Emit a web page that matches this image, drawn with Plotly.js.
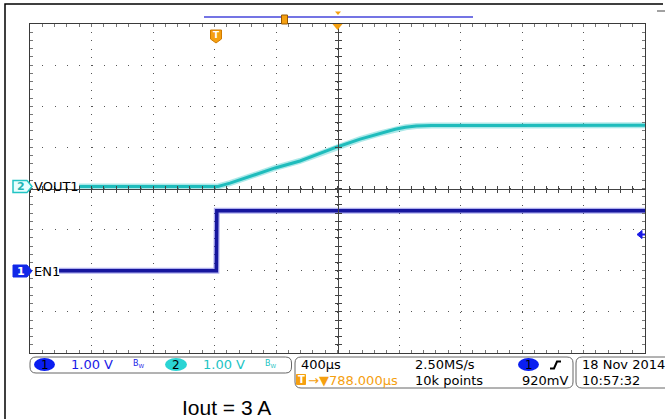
<!DOCTYPE html>
<html>
<head>
<meta charset="utf-8">
<script src="https://cdn.plot.ly/plotly-3.0.1.min.js"></script>
<style>
html,body{margin:0;padding:0;background:#fff;}
#chart{width:665px;height:419px;}
</style>
</head>
<body>
<div id="chart"></div>
<script>
// ---- data (time in microseconds relative to trigger, volts) ----
const en1Time  = [-1023, 0, 3, 2788];
const en1Volts = [0.00, 0.00, 1.46, 1.46];

const vout1Time  = [-893, 11, 89, 219, 382, 544, 785, 935, 1065, 1163, 1230, 1300, 1400, 2788];
const vout1Volts = [0.00, 0.00, 0.08, 0.25, 0.45, 0.62, 0.96, 1.15, 1.29, 1.39, 1.44, 1.47, 1.48, 1.49];

const ch1Label = "EN1";
const ch2Label = "VOUT1";
const statusRow1 = ["400µs", "2.50MS/s"];
const statusRow2 = ["→▼788.000µs", "10k points", "920mV"];
const dateLabels = ["18 Nov 2014", "10:57:32"];
const scaleLabels = ["1.00 V", "1.00 V"];
const footer = "Iout = 3 A";

// ---- layout geometry ----
const L = 30, T = 24, W = 615, H = 329;
const X = p => (p - L) / W;
const Y = p => (T + H - p) / H;
const xRange = [-1212, 2788];
const xTick0 = -1212;

const cyan = '#1fbcbc', blue = '#16169e', orange = '#f5a010';
const font = 'DejaVu Sans, sans-serif';

function rr(x0, y0, x1, y1, r) {
  return 'M' + X(x0 + r) + ',' + Y(y0) + ' L' + X(x1 - r) + ',' + Y(y0) +
    ' Q' + X(x1) + ',' + Y(y0) + ' ' + X(x1) + ',' + Y(y0 + r) +
    ' L' + X(x1) + ',' + Y(y1 - r) +
    ' Q' + X(x1) + ',' + Y(y1) + ' ' + X(x1 - r) + ',' + Y(y1) +
    ' L' + X(x0 + r) + ',' + Y(y1) +
    ' Q' + X(x0) + ',' + Y(y1) + ' ' + X(x0) + ',' + Y(y1 - r) +
    ' L' + X(x0) + ',' + Y(y0 + r) +
    ' Q' + X(x0) + ',' + Y(y0) + ' ' + X(x0 + r) + ',' + Y(y0) + ' Z';
}
function poly(pts) {
  return 'M' + pts.map(p => X(p[0]) + ',' + Y(p[1])).join(' L') + ' Z';
}
function pline(pts) {
  return 'M' + pts.map(p => X(p[0]) + ',' + Y(p[1])).join(' L');
}
function txt(text, x, y, color, size, anchor, extra) {
  return Object.assign({
    text: text, x: X(x), y: Y(y), xref: 'paper', yref: 'paper',
    xanchor: anchor || 'left', yanchor: 'middle', showarrow: false,
    font: {family: font, size: size || 13, color: color || '#000'}
  }, extra || {});
}

const traces = [
  {x: en1Time, y: en1Volts, xaxis: 'x', yaxis: 'y', mode: 'lines',
   line: {color: '#3a3ad8', width: 6}, opacity: 0.4, hoverinfo: 'skip', showlegend: false},
  {x: en1Time, y: en1Volts, xaxis: 'x', yaxis: 'y', mode: 'lines',
   line: {color: blue, width: 3.5}, name: ch1Label, showlegend: false},
  {x: vout1Time, y: vout1Volts, xaxis: 'x', yaxis: 'y2', mode: 'lines',
   line: {color: '#5cd4d4', width: 6}, opacity: 0.5, hoverinfo: 'skip', showlegend: false},
  {x: vout1Time, y: vout1Volts, xaxis: 'x', yaxis: 'y2', mode: 'lines',
   line: {color: cyan, width: 3}, name: ch2Label, showlegend: false},
  // helpers for centre crosshair axes
  {x: [], y: [], xaxis: 'x3', yaxis: 'y', showlegend: false},
  {x: [], y: [], xaxis: 'x4', yaxis: 'y', showlegend: false},
  {x: [], y: [], xaxis: 'x', yaxis: 'y3', showlegend: false},
  {x: [], y: [], xaxis: 'x', yaxis: 'y4', showlegend: false}
];

const centreX = {overlaying: 'x', anchor: 'free', position: 0.5, range: xRange,
  showline: true, linecolor: '#444', linewidth: 1, tick0: xTick0, dtick: 80,
  ticklen: 3, tickcolor: '#444', showticklabels: false, showgrid: false, zeroline: false, fixedrange: true};
const centreY = {overlaying: 'y', anchor: 'free', position: 0.5, range: [-2, 6],
  showline: true, linecolor: '#444', linewidth: 1, tick0: -2, dtick: 0.2,
  ticklen: 3, tickcolor: '#444', showticklabels: false, showgrid: false, zeroline: false, fixedrange: true};

const shapes = [
  // outer frame
  {type: 'path', xref: 'paper', yref: 'paper', path: pline([[5, 430], [5, 4], [663, 4]]), line: {color: '#000', width: 1.5}},
  {type: 'line', xref: 'paper', yref: 'paper', x0: X(657), x1: X(666), y0: Y(11), y1: Y(11), line: {color: '#444', width: 1}},
  // record bar
  {type: 'line', xref: 'paper', yref: 'paper', x0: X(204), x1: X(473), y0: Y(17), y1: Y(17), line: {color: '#7474e4', width: 2}},
  {type: 'rect', xref: 'paper', yref: 'paper', x0: X(281.5), x1: X(287.5), y0: Y(24), y1: Y(15), fillcolor: orange, line: {color: '#9a5a00', width: 1}},
  {type: 'path', xref: 'paper', yref: 'paper', path: poly([[335, 11.5], [341, 11.5], [338, 15]]), fillcolor: orange, line: {width: 0}},
  {type: 'path', xref: 'paper', yref: 'paper', path: poly([[332.5, 24], [342.5, 24], [337.5, 30]]), fillcolor: orange, line: {width: 0}},
  // trigger T shield
  {type: 'path', xref: 'paper', yref: 'paper', path: poly([[210.5, 30], [221.5, 30], [221.5, 39], [216, 43], [210.5, 39]]), fillcolor: orange, line: {color: '#d07a00', width: 1}},
  // channel markers
  {type: 'path', xref: 'paper', yref: 'paper', path: poly([[13, 180.5], [27, 180.5], [32, 186.5], [27, 192.5], [13, 192.5]]), fillcolor: '#e6ffff', line: {color: '#22c4c4', width: 1.5}},
  {type: 'path', xref: 'paper', yref: 'paper', path: poly([[13, 265], [27, 265], [32, 271], [27, 277], [13, 277]]), fillcolor: '#1028e8', line: {color: '#1028e8', width: 1}},
  // trigger level arrow
  {type: 'path', xref: 'paper', yref: 'paper', path: poly([[637, 234.5], [642, 230.5], [642, 238.5]]), fillcolor: '#1a1ae6', line: {color: '#1a1ae6', width: 1}},
  {type: 'line', xref: 'paper', yref: 'paper', x0: X(641), x1: X(645), y0: Y(234.5), y1: Y(234.5), line: {color: '#1a1ae6', width: 2}},
  // status boxes
  {type: 'path', xref: 'paper', yref: 'paper', path: rr(30, 357, 291.5, 373, 6), line: {color: '#666', width: 1}},
  {type: 'path', xref: 'paper', yref: 'paper', path: rr(295, 357, 573, 388, 6), line: {color: '#666', width: 1}},
  {type: 'path', xref: 'paper', yref: 'paper', path: rr(576, 357, 680, 388, 6), line: {color: '#666', width: 1}},
  {type: 'circle', xref: 'paper', yref: 'paper', x0: X(34), x1: X(55), y0: Y(371), y1: Y(358), fillcolor: '#0a1ef0', line: {width: 0}},
  {type: 'circle', xref: 'paper', yref: 'paper', x0: X(165), x1: X(187), y0: Y(371), y1: Y(358), fillcolor: '#2ad4d4', line: {width: 0}},
  {type: 'circle', xref: 'paper', yref: 'paper', x0: X(518), x1: X(539), y0: Y(371), y1: Y(358), fillcolor: '#0a1ef0', line: {width: 0}},
  {type: 'path', xref: 'paper', yref: 'paper', path: pline([[550, 368.5], [554, 368.5], [557, 361.5], [561, 361.5]]), line: {color: '#000', width: 2}},
  {type: 'rect', xref: 'paper', yref: 'paper', x0: X(296.5), x1: X(305.5), y0: Y(384.5), y1: Y(374.5), fillcolor: orange, line: {color: orange, width: 1}}
];

const annotations = [
  txt('T', 216, 35, '#fff', 9, 'center', {font: {family: font, size: 9, color: '#fff', weight: 'bold'}}),
  txt('2', 21, 186.5, '#22c4c4', 11, 'center', {font: {family: font, size: 11, color: '#1fb4b4', weight: 'bold'}}),
  txt('1', 21, 271, '#fff', 11, 'center', {font: {family: font, size: 11, color: '#fff', weight: 'bold'}}),
  txt(ch2Label, 32, 186.5, '#000', 13),
  txt(ch1Label, 32, 271, '#000', 13),
  txt('1', 44.5, 364.5, '#000', 12, 'center'),
  txt(scaleLabels[0], 69, 364.5, '#1a1ae6', 13),
  txt('B<sub>W</sub>', 131, 364, '#1a1ae6', 8),
  txt('2', 176, 364.5, '#000', 12, 'center'),
  txt(scaleLabels[1], 201, 364.5, '#22c4c4', 13),
  txt('B<sub>W</sub>', 263, 364, '#22c4c4', 8),
  txt(statusRow1[0], 299, 365, '#000', 13),
  txt(statusRow1[1], 413, 365, '#000', 13),
  txt('1', 528.5, 364.5, '#000', 12, 'center'),
  txt('T', 301, 379.5, '#fff', 10, 'center', {font: {family: font, size: 10, color: '#fff', weight: 'bold'}}),
  txt(statusRow2[0], 306, 380, orange, 13),
  txt(statusRow2[1], 413, 380, '#000', 13),
  txt(statusRow2[2], 520, 380, '#000', 13),
  txt(dateLabels[0], 580, 365, '#000', 13),
  txt(dateLabels[1], 580, 380, '#000', 13),
  txt(footer, 180, 407, '#000', 21, 'left', {font: {family: 'Liberation Sans, Arial, sans-serif', size: 21, color: '#000'}})
];

const layout = {
  width: 665, height: 419,
  margin: {l: L, r: 665 - L - W, t: T, b: 419 - T - H, pad: 0},
  paper_bgcolor: '#fff', plot_bgcolor: '#fff',
  showlegend: false,
  xaxis: {range: xRange, tick0: xTick0, dtick: 400, showgrid: true, gridcolor: '#555', gridwidth: 1,
    griddash: '1px,7.225px', zeroline: false, showticklabels: false,
    showline: true, linecolor: '#3a3a3a', linewidth: 1.2, mirror: 'ticks',
    ticks: 'inside', ticklen: 3, tickcolor: '#777',
    minor: {tick0: xTick0, dtick: 80, ticks: 'inside', ticklen: 3, tickcolor: '#777', showgrid: false},
    fixedrange: true},
  yaxis: {range: [-2, 6], tick0: -2, dtick: 1, showgrid: true, gridcolor: '#555', gridwidth: 1,
    griddash: '1px,11.3px', zeroline: false, showticklabels: false,
    showline: true, linecolor: '#3a3a3a', linewidth: 1.2, mirror: 'ticks',
    ticks: 'inside', ticklen: 3, tickcolor: '#777',
    minor: {tick0: -2, dtick: 0.2, ticks: 'inside', ticklen: 3, tickcolor: '#777', showgrid: false},
    fixedrange: true},
  yaxis2: {overlaying: 'y', range: [-4.05, 3.95], visible: false, fixedrange: true},
  xaxis3: Object.assign({}, centreX, {ticks: 'inside'}),
  xaxis4: Object.assign({}, centreX, {ticks: 'outside'}),
  yaxis3: Object.assign({}, centreY, {ticks: 'inside', side: 'left'}),
  yaxis4: Object.assign({}, centreY, {ticks: 'outside', side: 'left'}),
  shapes: shapes,
  annotations: annotations
};

Plotly.newPlot('chart', traces, layout, {staticPlot: true, displayModeBar: false});
</script>
</body>
</html>
